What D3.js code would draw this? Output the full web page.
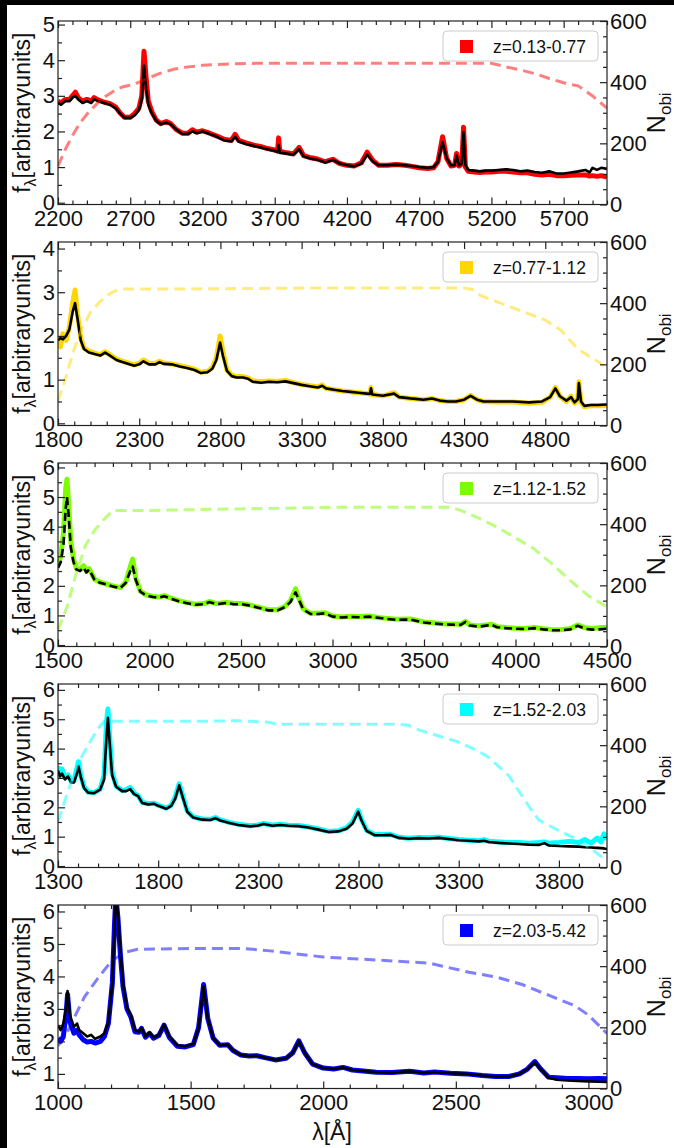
<!DOCTYPE html>
<html><head><meta charset="utf-8">
<script src="https://cdn.jsdelivr.net/npm/d3@7"></script>
<style>
html,body{margin:0;padding:0;background:#fff;}
svg{display:block;font-family:"Liberation Sans",Arial,sans-serif;}
</style></head>
<body>
<svg id="chart" width="674" height="1148"></svg>
<script>
// ---------------- DATA ----------------
const legendLabels = ["z=0.13-0.77","z=0.77-1.12","z=1.12-1.52","z=1.52-2.03","z=2.03-5.42"];
const colors = ["#ff0000","#ffd700","#7cfc00","#00ffff","#0000ff"];
const xDomains = [[2200,6000],[1800,5180],[1500,4500],[1300,4040],[1000,3070]];
const yDomains = [[-0.05,5.1],[-0.05,4.15],[-0.05,6.15],[-0.05,6.2],[0.55,6.2]];
const xTickStart = [2200,1800,1500,1300,1000];
const yTickVals = [[0,1,2,3,4,5],[0,1,2,3,4],[0,1,2,3,4,5,6],[0,1,2,3,4,5,6],[1,2,3,4,5,6]];
const nTickVals = [0,200,400,600];

// Panel 1
const wave1 = [2200,2220,2250,2280,2300,2320,2340,2370,2400,2430,2450,2480,2520,2560,2600,2630,2660,2700,2730,2760,2780,2795,2810,2825,2850,2880,2910,2950,2980,3020,3060,3100,3130,3160,3200,3250,3300,3350,3400,3426,3450,3500,3550,3600,3650,3700,3720,3727,3735,3780,3830,3869,3900,3940,3970,4000,4050,4102,4150,4200,4250,4300,4340,4380,4420,4480,4540,4600,4650,4700,4760,4800,4830,4862,4890,4920,4945,4959,4975,4995,5007,5020,5040,5080,5120,5160,5200,5250,5300,5350,5400,5450,5500,5550,5600,5650,5700,5750,5800,5850,5880,5900,5930,5960,6000];
const median1 = [2.80,2.75,2.85,2.85,2.95,3.00,2.90,2.80,2.85,2.80,2.90,2.85,2.80,2.75,2.65,2.50,2.38,2.38,2.45,2.60,2.90,3.85,3.20,2.75,2.50,2.30,2.20,2.25,2.20,2.05,1.93,1.93,2.00,1.95,2.00,1.93,1.85,1.75,1.72,1.85,1.72,1.65,1.60,1.55,1.50,1.45,1.42,1.62,1.40,1.38,1.35,1.50,1.30,1.25,1.22,1.20,1.13,1.20,1.10,1.05,1.02,1.10,1.35,1.15,1.05,1.05,1.07,1.05,1.03,1.00,0.98,1.00,1.15,1.70,1.25,1.05,1.05,1.32,1.05,1.10,1.98,1.05,0.92,0.90,0.88,0.90,0.90,0.92,0.94,0.92,0.88,0.90,0.86,0.84,0.88,0.82,0.82,0.85,0.88,0.92,0.85,0.98,0.92,0.98,0.95];
const mean1 = [2.85,2.80,2.90,2.90,3.00,3.10,2.95,2.85,2.90,2.85,2.95,2.88,2.82,2.78,2.68,2.52,2.40,2.40,2.50,2.65,3.00,4.25,3.50,2.85,2.55,2.32,2.22,2.28,2.22,2.05,1.95,1.95,2.05,1.98,2.02,1.95,1.87,1.78,1.75,1.92,1.75,1.68,1.62,1.58,1.52,1.48,1.45,1.82,1.45,1.40,1.37,1.55,1.32,1.27,1.25,1.22,1.15,1.22,1.10,1.05,1.03,1.12,1.42,1.18,1.05,1.05,1.07,1.05,1.02,0.98,0.96,0.98,1.15,1.85,1.25,1.03,1.05,1.38,1.03,1.08,2.12,1.00,0.88,0.86,0.85,0.86,0.86,0.88,0.88,0.86,0.84,0.84,0.80,0.78,0.80,0.76,0.76,0.77,0.78,0.78,0.75,0.76,0.74,0.76,0.72];
const nWave1 = [2200,2250,2300,2350,2400,2450,2500,2550,2600,2650,2700,2750,2800,2850,2900,2950,3000,3100,3200,3300,3400,3600,4000,4500,5000,5200,5300,5400,5500,5600,5700,5750,5800,5900,6000];
const nObj1 = [125,180,225,265,295,320,345,360,375,385,390,398,408,418,428,435,442,450,455,458,460,462,462,462,462,462,450,440,428,412,398,392,388,355,315];

// Panel 2
const wave2 = [1800,1815,1830,1850,1870,1890,1905,1920,1940,1960,1990,2030,2060,2090,2120,2160,2200,2240,2270,2300,2326,2360,2400,2425,2450,2500,2550,2600,2640,2680,2720,2750,2775,2798,2815,2840,2870,2900,2940,2970,3000,3050,3100,3150,3200,3250,3300,3350,3400,3426,3450,3500,3550,3600,3650,3700,3720,3727,3735,3800,3869,3900,3970,4000,4050,4102,4150,4200,4250,4300,4340,4380,4420,4500,4600,4700,4780,4830,4862,4890,4930,4959,4980,5000,5007,5020,5040,5080,5120,5180];
const median2 = [1.90,1.95,1.92,2.00,2.15,2.55,2.75,2.40,1.90,1.70,1.62,1.58,1.55,1.62,1.55,1.45,1.40,1.35,1.32,1.35,1.42,1.35,1.35,1.40,1.36,1.35,1.30,1.26,1.22,1.15,1.17,1.25,1.45,1.85,1.55,1.20,1.08,1.05,1.05,1.02,0.95,0.93,0.95,0.94,0.96,0.92,0.88,0.85,0.82,0.86,0.80,0.77,0.74,0.72,0.70,0.68,0.67,0.80,0.66,0.63,0.68,0.60,0.57,0.56,0.54,0.57,0.52,0.50,0.50,0.54,0.63,0.54,0.50,0.50,0.50,0.48,0.50,0.60,0.80,0.62,0.52,0.60,0.48,0.55,0.92,0.50,0.40,0.42,0.42,0.43];
const mean2 = [2.00,1.75,2.05,1.90,2.20,2.75,3.05,2.50,1.95,1.72,1.65,1.60,1.57,1.64,1.57,1.47,1.42,1.37,1.34,1.37,1.45,1.37,1.37,1.42,1.38,1.36,1.32,1.28,1.24,1.17,1.19,1.28,1.50,2.00,1.65,1.22,1.10,1.07,1.07,1.04,0.97,0.95,0.97,0.96,0.98,0.93,0.89,0.86,0.83,0.88,0.80,0.77,0.74,0.72,0.70,0.68,0.67,0.82,0.66,0.63,0.70,0.60,0.57,0.56,0.54,0.57,0.52,0.50,0.50,0.54,0.64,0.54,0.50,0.49,0.49,0.46,0.48,0.60,0.82,0.62,0.50,0.62,0.46,0.55,0.95,0.48,0.38,0.40,0.40,0.41];
const nWave2 = [1800,1850,1900,1950,2000,2050,2100,2150,2200,2500,3000,3500,4300,4350,4400,4500,4600,4700,4800,4900,5000,5180];
const nObj2 = [80,160,250,320,370,400,425,440,446,446,448,450,450,445,425,405,385,365,345,310,250,190];

// Panel 3
const wave3 = [1500,1515,1530,1542,1549,1558,1570,1585,1600,1620,1640,1655,1670,1700,1730,1760,1800,1840,1870,1895,1908,1925,1950,1980,2020,2050,2080,2110,2160,2200,2250,2300,2326,2370,2420,2460,2500,2550,2600,2650,2700,2740,2770,2798,2815,2840,2880,2920,2960,3000,3050,3100,3150,3200,3250,3300,3350,3426,3500,3550,3600,3650,3700,3727,3750,3800,3869,3900,3950,4000,4050,4102,4150,4200,4250,4300,4340,4380,4420,4460,4500];
const median3 = [2.60,2.80,3.40,4.60,5.00,4.40,3.30,2.80,2.55,2.50,2.62,2.45,2.55,2.20,2.10,2.05,1.98,1.92,2.10,2.50,2.65,2.20,1.80,1.68,1.62,1.60,1.65,1.58,1.48,1.42,1.36,1.38,1.45,1.38,1.42,1.38,1.38,1.33,1.25,1.17,1.17,1.28,1.45,1.78,1.55,1.20,1.05,1.05,1.07,0.96,0.93,0.95,0.94,0.96,0.92,0.88,0.85,0.86,0.76,0.73,0.70,0.69,0.68,0.78,0.66,0.62,0.68,0.60,0.57,0.55,0.54,0.57,0.53,0.50,0.50,0.53,0.65,0.55,0.52,0.53,0.55];
const mean3 = [2.70,3.00,3.80,5.30,5.60,4.80,3.50,2.90,2.60,2.55,2.68,2.50,2.58,2.22,2.12,2.07,2.00,1.94,2.12,2.65,2.90,2.25,1.82,1.70,1.64,1.62,1.67,1.60,1.50,1.44,1.38,1.40,1.47,1.40,1.44,1.40,1.40,1.35,1.27,1.19,1.19,1.30,1.50,1.90,1.60,1.22,1.07,1.07,1.09,0.98,0.95,0.97,0.96,0.98,0.93,0.90,0.87,0.88,0.78,0.75,0.72,0.71,0.70,0.80,0.68,0.64,0.70,0.62,0.59,0.57,0.56,0.59,0.55,0.52,0.52,0.56,0.68,0.58,0.56,0.58,0.60];
const nWave3 = [1500,1550,1600,1650,1700,1750,1800,2000,2500,3000,3650,3700,3800,3900,4000,4100,4200,4300,4400,4500];
const nObj3 = [55,130,240,330,380,415,445,445,450,455,455,445,420,390,355,320,270,215,165,130];

// Panel 4
const wave4 = [1300,1310,1320,1335,1350,1365,1380,1392,1402,1415,1430,1450,1480,1510,1530,1542,1549,1558,1570,1590,1620,1640,1660,1680,1700,1720,1750,1780,1800,1840,1865,1885,1905,1920,1945,1975,2020,2060,2085,2110,2160,2200,2260,2300,2326,2370,2410,2450,2500,2550,2600,2650,2700,2740,2770,2798,2815,2840,2880,2920,2960,3000,3050,3100,3150,3200,3250,3300,3350,3400,3426,3450,3500,3550,3600,3650,3700,3727,3750,3800,3850,3900,3930,3960,3990,4010,4025,4040];
const median4 = [3.25,3.05,3.15,2.95,3.05,2.85,2.85,3.10,3.40,3.00,2.65,2.50,2.48,2.60,2.95,4.40,5.05,4.20,3.10,2.70,2.55,2.55,2.62,2.45,2.38,2.15,2.10,2.12,2.05,1.95,2.05,2.30,2.75,2.40,1.85,1.65,1.58,1.57,1.63,1.55,1.46,1.40,1.35,1.38,1.43,1.37,1.40,1.37,1.36,1.31,1.24,1.16,1.18,1.27,1.45,1.85,1.55,1.20,1.05,1.05,1.06,0.96,0.93,0.95,0.94,0.96,0.92,0.88,0.86,0.84,0.86,0.82,0.79,0.77,0.75,0.73,0.72,0.78,0.70,0.68,0.67,0.66,0.64,0.63,0.62,0.61,0.60,0.58];
const mean4 = [3.40,3.10,3.30,3.00,3.10,2.90,2.90,3.25,3.55,3.05,2.70,2.52,2.50,2.62,3.10,4.90,5.35,4.40,3.20,2.72,2.57,2.60,2.68,2.48,2.40,2.17,2.12,2.14,2.07,1.97,2.07,2.35,2.80,2.45,1.87,1.67,1.60,1.59,1.65,1.57,1.48,1.42,1.37,1.40,1.45,1.39,1.42,1.39,1.38,1.33,1.26,1.18,1.20,1.30,1.50,1.90,1.58,1.22,1.07,1.07,1.08,0.98,0.95,0.97,0.96,0.98,0.94,0.90,0.88,0.86,0.90,0.84,0.82,0.80,0.80,0.78,0.80,0.82,0.78,0.80,0.84,0.80,0.90,0.78,0.95,0.82,1.10,0.90];
const nWave4 = [1300,1350,1400,1450,1500,1530,1600,1800,2000,2200,2350,2400,2600,2800,3000,3050,3100,3200,3300,3400,3450,3500,3550,3600,3650,3700,3800,3900,4040];
const nObj4 = [150,250,340,400,455,478,478,478,478,480,475,468,468,468,468,465,450,430,410,380,360,330,300,250,200,155,120,90,22];

// Panel 5
const wave5 = [1000,1010,1020,1030,1036,1045,1060,1072,1080,1095,1110,1125,1140,1160,1175,1190,1205,1213,1218,1226,1235,1245,1260,1275,1290,1305,1315,1330,1345,1360,1380,1400,1420,1450,1480,1510,1530,1549,1565,1585,1610,1640,1660,1690,1720,1750,1780,1820,1860,1885,1908,1930,1960,2000,2040,2075,2110,2160,2200,2260,2326,2380,2420,2480,2540,2600,2650,2700,2740,2770,2798,2820,2850,2880,2920,2960,3000,3040,3070];
const median5 = [2.50,2.35,2.55,3.00,3.55,2.80,2.45,2.55,2.35,2.25,2.15,2.20,2.08,2.15,2.25,2.60,3.80,5.50,6.50,5.90,4.80,3.80,3.05,2.80,2.35,2.30,2.42,2.15,2.28,2.12,2.20,2.52,2.15,1.88,1.85,1.92,2.40,3.70,2.70,2.10,1.88,1.90,1.72,1.58,1.55,1.56,1.50,1.43,1.48,1.65,2.00,1.65,1.30,1.18,1.15,1.20,1.12,1.08,1.05,1.04,1.08,1.03,1.06,1.02,1.00,0.95,0.92,0.92,1.00,1.15,1.35,1.15,0.88,0.82,0.80,0.78,0.77,0.76,0.75];
const mean5 = [2.10,2.00,2.15,2.80,3.45,2.60,2.25,2.35,2.20,2.05,1.98,2.00,1.95,2.00,2.15,2.55,3.80,5.60,6.50,5.80,4.70,3.70,3.00,2.75,2.30,2.28,2.40,2.13,2.25,2.10,2.18,2.50,2.12,1.85,1.83,1.90,2.42,3.75,2.70,2.10,1.88,1.90,1.72,1.58,1.55,1.56,1.50,1.43,1.48,1.65,2.02,1.65,1.30,1.18,1.15,1.20,1.12,1.08,1.05,1.04,1.08,1.03,1.06,1.02,1.00,0.95,0.92,0.92,1.00,1.15,1.38,1.15,0.90,0.88,0.86,0.86,0.85,0.86,0.85];
const nWave5 = [1000,1030,1060,1100,1150,1200,1250,1300,1500,1700,1800,1900,2000,2200,2400,2450,2550,2650,2750,2850,2950,3000,3070];
const nObj5 = [140,175,230,300,360,415,445,455,458,458,450,440,430,420,410,400,380,365,340,305,270,240,180];

const waves = [wave1,wave2,wave3,wave4,wave5];
const medians = [median1,median2,median3,median4,median5];
const means = [mean1,mean2,mean3,mean4,mean5];
const nWaves = [nWave1,nWave2,nWave3,nWave4,nWave5];
const nObjs = [nObj1,nObj2,nObj3,nObj4,nObj5];

// ---------------- LAYOUT ----------------
const svg = d3.select("#chart");
const W = 674, H = 1148;
svg.append("rect").attr("x",0).attr("y",0).attr("width",W).attr("height",H).attr("fill","#fff");
svg.append("rect").attr("x",0).attr("y",0).attr("width",W).attr("height",5).attr("fill","#000");
svg.append("rect").attr("x",0).attr("y",0).attr("width",7).attr("height",H).attr("fill","#000");

const left = 58, right = 607, panelH = 183.5, pitch = 221;
const top0 = 21;
const axisColor = "#222";

for (let i = 0; i < 5; i++) {
  const top = top0 + i * pitch, bottom = top + panelH;
  const x = d3.scaleLinear().domain(xDomains[i]).range([left, right]);
  const y = d3.scaleLinear().domain(yDomains[i]).range([bottom, top]);
  const yn = d3.scaleLinear().domain([0, 600]).range([bottom, top]);
  const g = svg.append("g");

  const clipId = "clip" + i;
  svg.append("clipPath").attr("id", clipId).append("rect")
    .attr("x", left).attr("y", top).attr("width", right - left).attr("height", panelH);
  const plot = g.append("g").attr("clip-path", `url(#${clipId})`);

  const wv = waves[i];
  const colLine = d3.line().x((d, k) => x(wv[k])).y(d => y(d));
  plot.append("path").datum(means[i]).attr("d", colLine)
    .attr("fill", "none").attr("stroke", colors[i]).attr("stroke-width", 5)
    .attr("stroke-linejoin", "round");
  const blk = plot.append("path").datum(medians[i]).attr("d", colLine)
    .attr("fill", "none").attr("stroke", "#000").attr("stroke-width", 2.6)
    .attr("stroke-linejoin", "round");
  if (i === 2) blk.attr("stroke-dasharray", "8,4");

  const nw = nWaves[i];
  const nLine = d3.line().x((d, k) => x(nw[k])).y(d => yn(d));
  plot.append("path").datum(nObjs[i]).attr("d", nLine)
    .attr("fill", "none").attr("stroke", colors[i]).attr("stroke-opacity", 0.5)
    .attr("stroke-width", 3).attr("stroke-dasharray", "11,6");

  // axes
  const s = xTickStart[i];
  const majorX = d3.range(s, xDomains[i][1] + 1, 500);
  const minorX = d3.range(s, xDomains[i][1] + 1, 100).filter(v => !majorX.includes(v));
  const fmt = d3.format("d");

  const ax = (sel) => { sel.select(".domain").remove(); sel.selectAll("line").attr("stroke", axisColor).attr("stroke-width", 1.2); sel.selectAll("text").attr("fill", "#111").style("font-size", "22px"); };

  g.append("g").attr("transform", `translate(0,${bottom})`)
    .call(d3.axisBottom(x).tickValues(majorX).tickFormat(fmt).tickSize(-7).tickPadding(6)).call(ax);
  g.append("g").attr("transform", `translate(0,${bottom})`)
    .call(d3.axisBottom(x).tickValues(minorX).tickFormat("").tickSize(-4)).call(ax);
  g.append("g").attr("transform", `translate(0,${top})`)
    .call(d3.axisTop(x).tickValues(majorX).tickFormat("").tickSize(-7)).call(ax);
  g.append("g").attr("transform", `translate(0,${top})`)
    .call(d3.axisTop(x).tickValues(minorX).tickFormat("").tickSize(-4)).call(ax);

  const yMaj = yTickVals[i];
  const yMin = d3.range(Math.ceil(yDomains[i][0] * 2) / 2, yDomains[i][1] + 0.001, 0.5).filter(v => !yMaj.includes(v));
  g.append("g").attr("transform", `translate(${left},0)`)
    .call(d3.axisLeft(y).tickValues(yMaj).tickFormat(fmt).tickSize(-7).tickPadding(3)).call(ax);
  g.append("g").attr("transform", `translate(${left},0)`)
    .call(d3.axisLeft(y).tickValues(yMin).tickFormat("").tickSize(-4)).call(ax);

  const nMin = d3.range(50, 600, 50).filter(v => !nTickVals.includes(v));
  g.append("g").attr("transform", `translate(${right},0)`)
    .call(d3.axisRight(yn).tickValues(nTickVals).tickFormat(fmt).tickSize(-7).tickPadding(3)).call(ax);
  g.append("g").attr("transform", `translate(${right},0)`)
    .call(d3.axisRight(yn).tickValues(nMin).tickFormat("").tickSize(-4)).call(ax);

  g.append("rect").attr("x", left).attr("y", top).attr("width", right - left).attr("height", panelH)
    .attr("fill", "none").attr("stroke", axisColor).attr("stroke-width", 1.2);

  // y label
  const yl = g.append("text").attr("transform", `translate(30,${(top + bottom) / 2}) rotate(-90)`)
    .attr("text-anchor", "middle").style("font-size", "23px").attr("fill", "#111");
  yl.append("tspan").text("f");
  yl.append("tspan").attr("dy", 6).style("font-size", "16px").text("λ");
  yl.append("tspan").attr("dy", -6).text("[arbitraryunits]");

  const nl = g.append("text").attr("transform", `translate(665,${(top + bottom) / 2}) rotate(-90)`)
    .attr("text-anchor", "middle").style("font-size", "25px").attr("fill", "#111");
  nl.append("tspan").text("N");
  nl.append("tspan").attr("dy", 6).style("font-size", "17px").text("obi");

  // legend
  const lg = g.append("g").attr("transform", `translate(443,${top + 10})`);
  lg.append("rect").attr("width", 155).attr("height", 30).attr("rx", 4)
    .attr("fill", "#fff").attr("fill-opacity", 0.85).attr("stroke", "#ccc").attr("stroke-width", 1);
  lg.append("rect").attr("x", 17).attr("y", 9).attr("width", 13).attr("height", 13).attr("fill", colors[i]);
  lg.append("text").attr("x", 50).attr("y", 21.5).style("font-size", "17.5px").attr("fill", "#111").text(legendLabels[i]);
}

svg.append("text").attr("x", 332).attr("y", 1140).attr("text-anchor", "middle")
  .style("font-size", "23px").attr("fill", "#111").text("λ[Å]");
</script>
</body></html>
